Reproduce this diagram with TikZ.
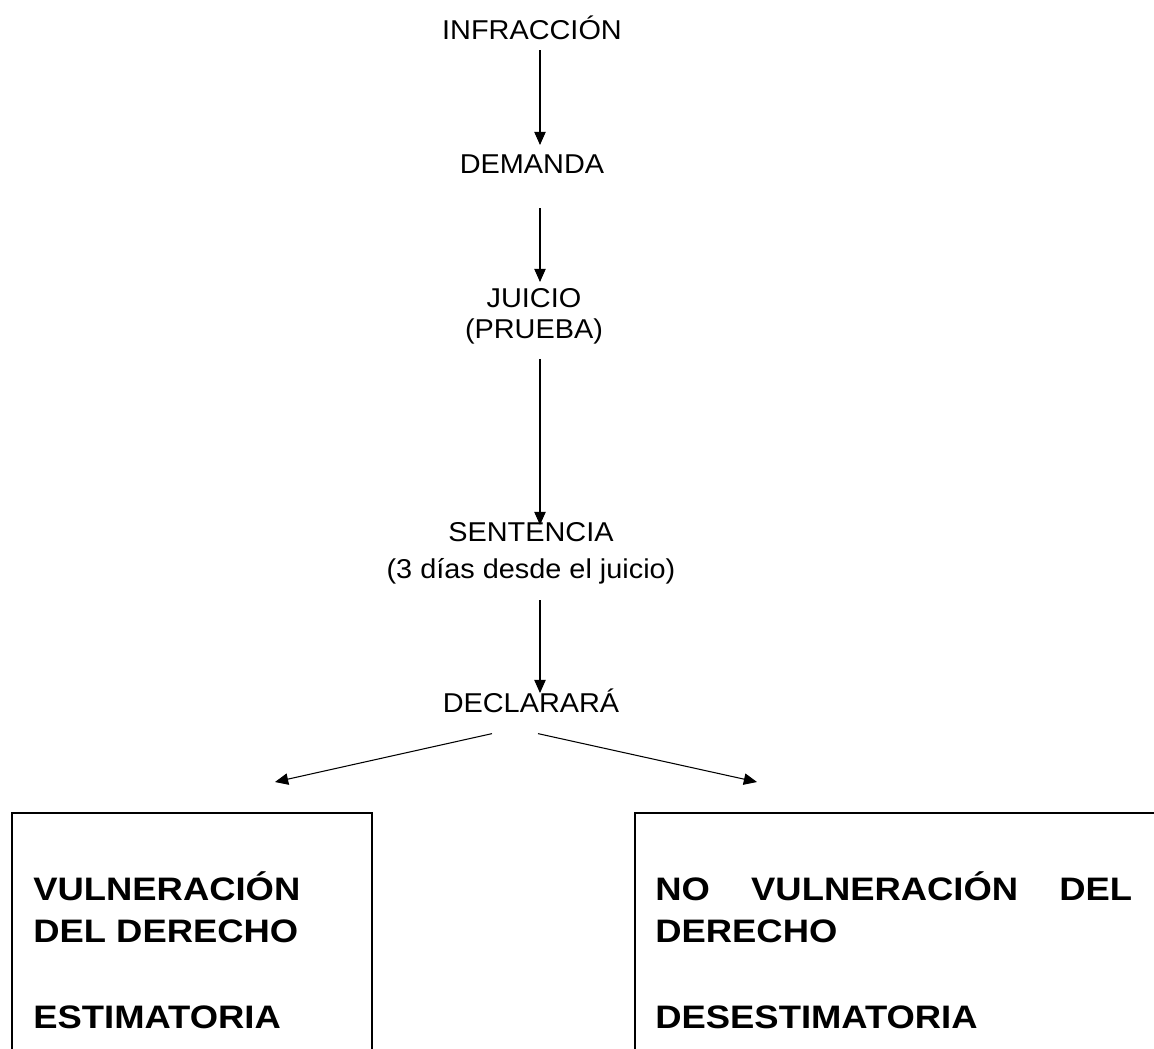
\documentclass[tikz,border=0pt]{standalone}
\usepackage{fontspec}
\setmainfont{Liberation Sans}[FakeStretch=1.06,BoldFeatures={FakeStretch=1.12}]
\usetikzlibrary{arrows.meta,calc}

\begin{document}
\begin{tikzpicture}[x=0.02cm,y=-0.02cm,
  paso/.style={inner sep=0pt,align=center,font=\fontsize{15.5}{17}\selectfont},
  flecha/.style={-{Triangle[length=7.5pt,width=6.5pt]},line width=0.6pt},
  marco/.style={line width=1.2pt},
  texto/.style={inner sep=0pt,anchor=base west,align=justify,
    font=\fontsize{18.5}{24.4}\selectfont\bfseries}]
  \useasboundingbox (0,0) rectangle (1154,1049);
  \clip (0,0) rectangle (1154,1049);

  % pasos del proceso
  \node[paso,anchor=base] (inf) at (532,39) {INFRACCIÓN};
  \node[paso,anchor=base] (dem) at (532,173) {DEMANDA};
  \node[paso,anchor=north,font=\fontsize{15.5}{18}\selectfont] (jui) at (534,288) {JUICIO\\(PRUEBA)};
  \node[paso,anchor=north,font=\fontsize{15.5}{21}\selectfont] (sen) at (531,522) {SENTENCIA\\(3 días desde el juicio)};
  \node[paso,anchor=base] (dec) at (531,712) {DECLARARÁ};

  \draw[flecha] ($(inf.base)+(8,11)$) -- ($(dem.base)+(8,-28)$);
  \draw[flecha] ($(dem.base)+(8,35)$) -- ($(jui.north)+(6,-6)$);
  \draw[flecha] ($(jui.south)+(6,14)$) -- ($(sen.north)+(9,3)$);
  \draw[flecha] ($(sen.south)+(9,16)$) -- ($(dec.north)+(9,5)$);

  % los dos resultados
  \coordinate (finizq) at (275,782);
  \coordinate (finder) at (757,782);
  \draw[flecha] ($(dec.south)+(-39,21)$) -- (finizq);
  \draw[flecha] ($(dec.south)+(7,21)$) -- (finder);

  \draw[marco] (12,1060) |- (372,813) -- (372,1060);
  \draw[marco] (635,1060) |- (1170,813);

  \node[texto,text width=6.4cm] (est) at (33,900)
    {VULNERACIÓN DEL DERECHO\\[\baselineskip]ESTIMATORIA};
  \node[texto,text width=9.54cm] (des) at (655,900)
    {NO VULNERACIÓN DEL DERECHO\\[\baselineskip]DESESTIMATORIA};
\end{tikzpicture}
\end{document}
